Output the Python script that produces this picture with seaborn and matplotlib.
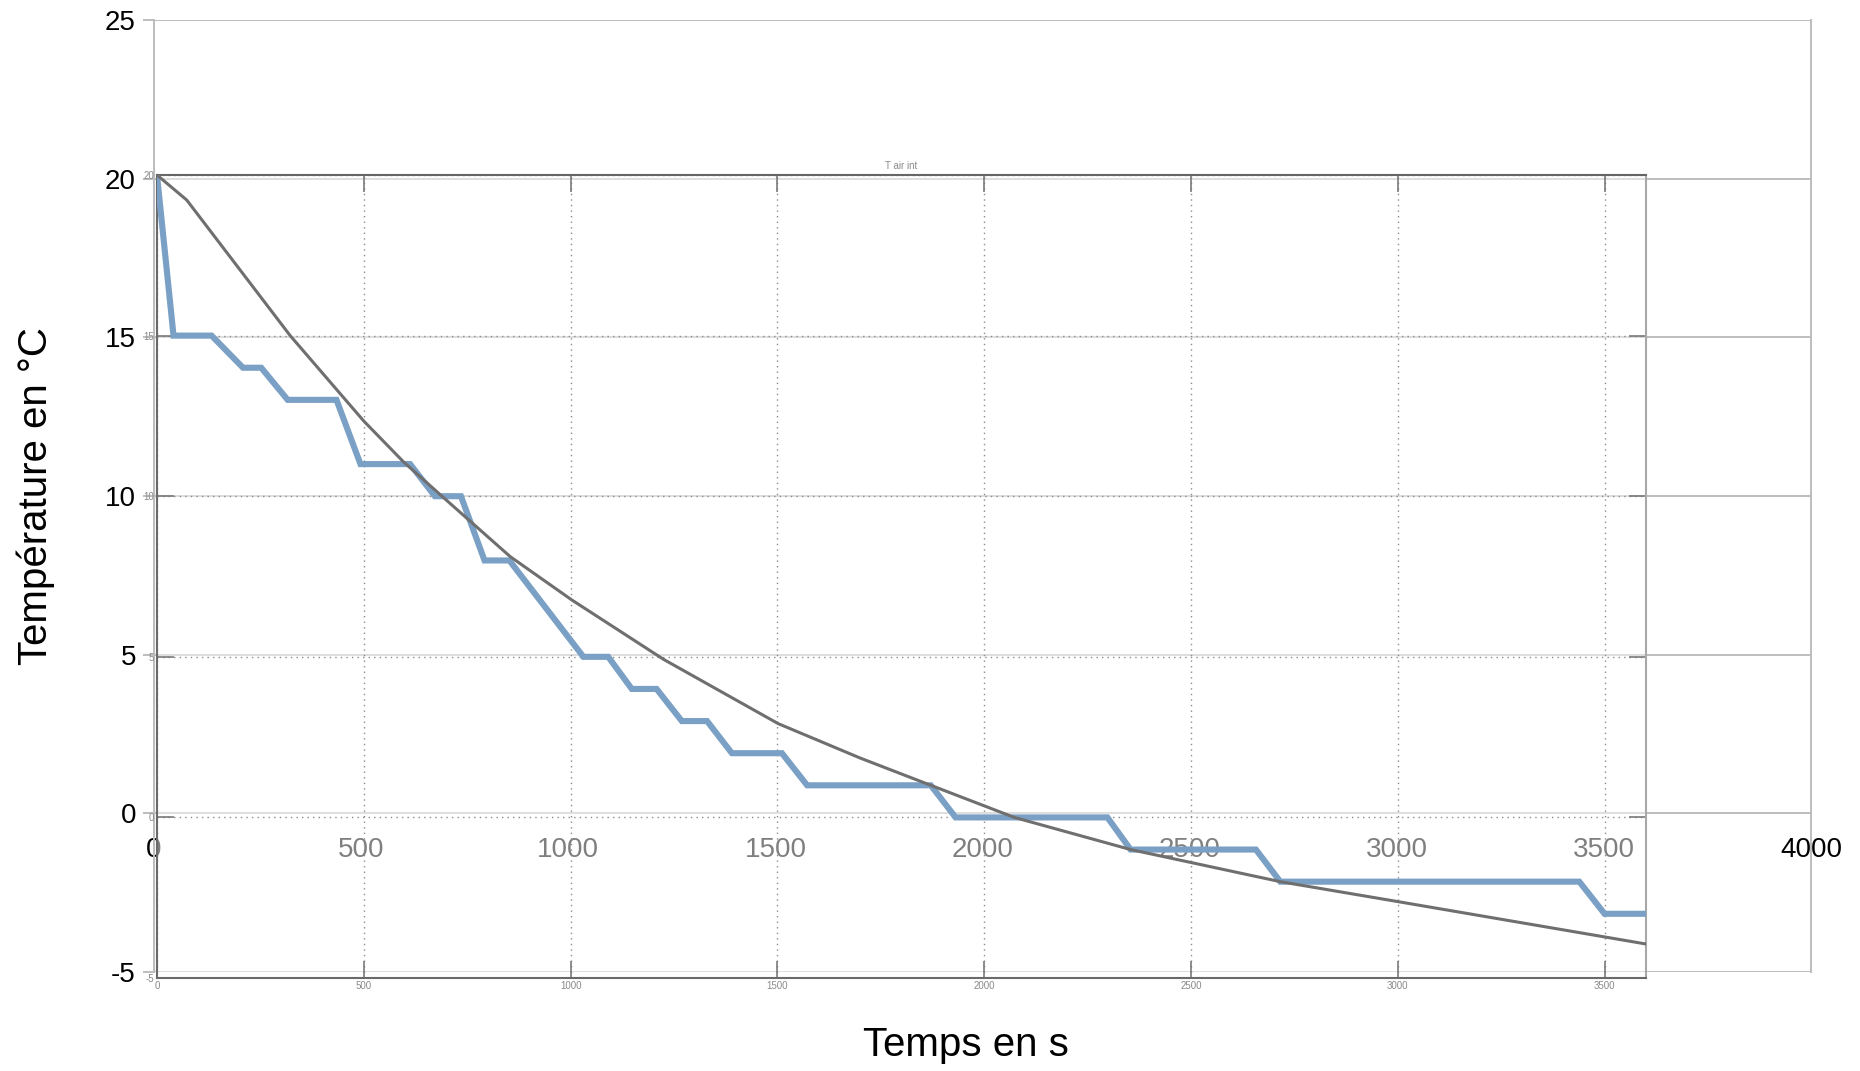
import seaborn as sns
import matplotlib.pyplot as plt
import pandas as pd

# Mesure (thermometre, pas de 1 degre)
t_mesure = [0, 40, 132, 208, 252, 316, 434, 492, 612, 672, 735, 792, 852, 1031, 1091,
            1148, 1208, 1269, 1330, 1390, 1511, 1572, 1871, 1931, 2298, 2354, 2657,
            2716, 3439, 3500, 3600]
T_mesure = [20, 15, 15, 14, 14, 13, 13, 11, 11, 10, 10, 8, 8, 5, 5,
            4, 4, 3, 3, 2, 2, 1, 1, 0, 0, -1, -1,
            -2, -2, -3, -3]

# Simulation "T air int"
t_calc = [0, 72, 322, 500, 596, 689, 854, 1003, 1225, 1502, 1700, 1871, 2073,
          2354, 2716, 3000, 3250, 3500, 3600]
T_calc = [20, 19.22, 15.0, 12.34, 11.07, 10.0, 8.12, 6.77, 4.92, 2.92, 1.85, 1.0, 0.0,
          -1.0, -2.0, -2.62, -3.17, -3.72, -3.94]

outer_xticks = [0, 500, 1000, 1500, 2000, 2500, 3000, 3500, 4000]
outer_yticks = [-5, 0, 5, 10, 15, 20, 25]
inner_xticks = [0, 500, 1000, 1500, 2000, 2500, 3000, 3500]
inner_yticks = [-5, 0, 5, 10, 15, 20]

sns.set_theme(style="white")
plt.rcParams['font.family'] = ['Liberation Sans', 'DejaVu Sans']

df_mesure = pd.DataFrame({"Temps": t_mesure, "T": T_mesure})
df_calc = pd.DataFrame({"Temps": t_calc, "T": T_calc})

fig = plt.figure(figsize=(18.6, 10.71), dpi=100)

# --- graphique principal (axes du tableur) ---
ax = fig.add_axes([0.0828, 0.0924, 0.8909, 0.8889])
ax.set_xlim(0, 4000)
ax.set_ylim(-5, 25)
ax.set_xticks(outer_xticks)
ax.set_yticks(outer_yticks)
ax.set_xticklabels([str(v) for v in outer_xticks])
ax.set_yticklabels([str(v) for v in outer_yticks])
ax.grid(axis='y', color='#bdbdbd', linewidth=1.4)
ax.grid(axis='x', visible=False)
for s in ['left', 'right']:
    ax.spines[s].set_color('#bdbdbd')
    ax.spines[s].set_linewidth(1.4)
ax.spines['top'].set_visible(False)
ax.spines['bottom'].set_position(('data', 0))
ax.spines['bottom'].set_color('#bdbdbd')
ax.spines['bottom'].set_linewidth(1.4)
ax.tick_params(axis='y', direction='out', length=8, width=1.4, color='#bdbdbd',
               pad=5, labelsize=20, labelcolor='black', left=True)
ax.tick_params(axis='x', length=0, pad=17, labelsize=20, labelcolor='black')
ax.set_xlabel("Temps en s", fontsize=29, color='black')
ax.set_ylabel("Température en °C", fontsize=29, color='black')
ax.xaxis.set_label_coords(0.49, -0.057)
ax.yaxis.set_label_coords(-0.06, 0.5)
ax.set_zorder(1)

# --- image collee du logiciel de simulation ---
ax_in = fig.add_axes([0.0844, 0.0868, 0.8005, 0.7498])
ax_in.set_zorder(2)
ax_in.patch.set_facecolor('white')
ax_in.patch.set_alpha(0.5)

sns.lineplot(data=df_mesure, x="Temps", y="T", ax=ax_in, color='#7aa0c5',
             linewidth=4.4, solid_joinstyle='miter', sort=False, zorder=3)
sns.lineplot(data=df_calc, x="Temps", y="T", ax=ax_in, color='#6f6f6f',
             linewidth=2.2, sort=False, zorder=4)

ax_in.set_xlim(0, 3600)
ax_in.set_ylim(-5, 20)
ax_in.set_xticks(inner_xticks)
ax_in.set_yticks(inner_yticks)
ax_in.set_xticklabels([str(v) for v in inner_xticks])
ax_in.set_yticklabels([str(v) for v in inner_yticks])
ax_in.grid(True, linestyle=(0, (1, 3)), color='#8c8c8c', linewidth=1.0)
ax_in.set_xlabel("")
ax_in.set_ylabel("")
for s in ['left', 'bottom']:
    ax_in.spines[s].set_color('#6a6a6a')
    ax_in.spines[s].set_linewidth(1.5)
ax_in.spines['right'].set_color('#a8a8a8')
ax_in.spines['right'].set_linewidth(1.5)
ax_in.spines['top'].set_color('#666666')
ax_in.spines['top'].set_linestyle((0, (1, 1)))
ax_in.spines['top'].set_linewidth(1.5)
ax_in.tick_params(direction='in', length=12, width=1.2, color='#7a7a7a',
                  labelsize=7, labelcolor='#8a8a8a', pad=2,
                  top=True, right=True, bottom=True, left=True)
for lab in ax_in.get_xticklabels() + ax_in.get_yticklabels():
    lab.set_family(['Liberation Sans Narrow', 'Liberation Sans'])
ax_in.set_title("T air int", fontsize=7, color='#8a8a8a', pad=4,
                family=['Liberation Sans Narrow', 'Liberation Sans'])

fig.savefig("out.png", dpi=100)
